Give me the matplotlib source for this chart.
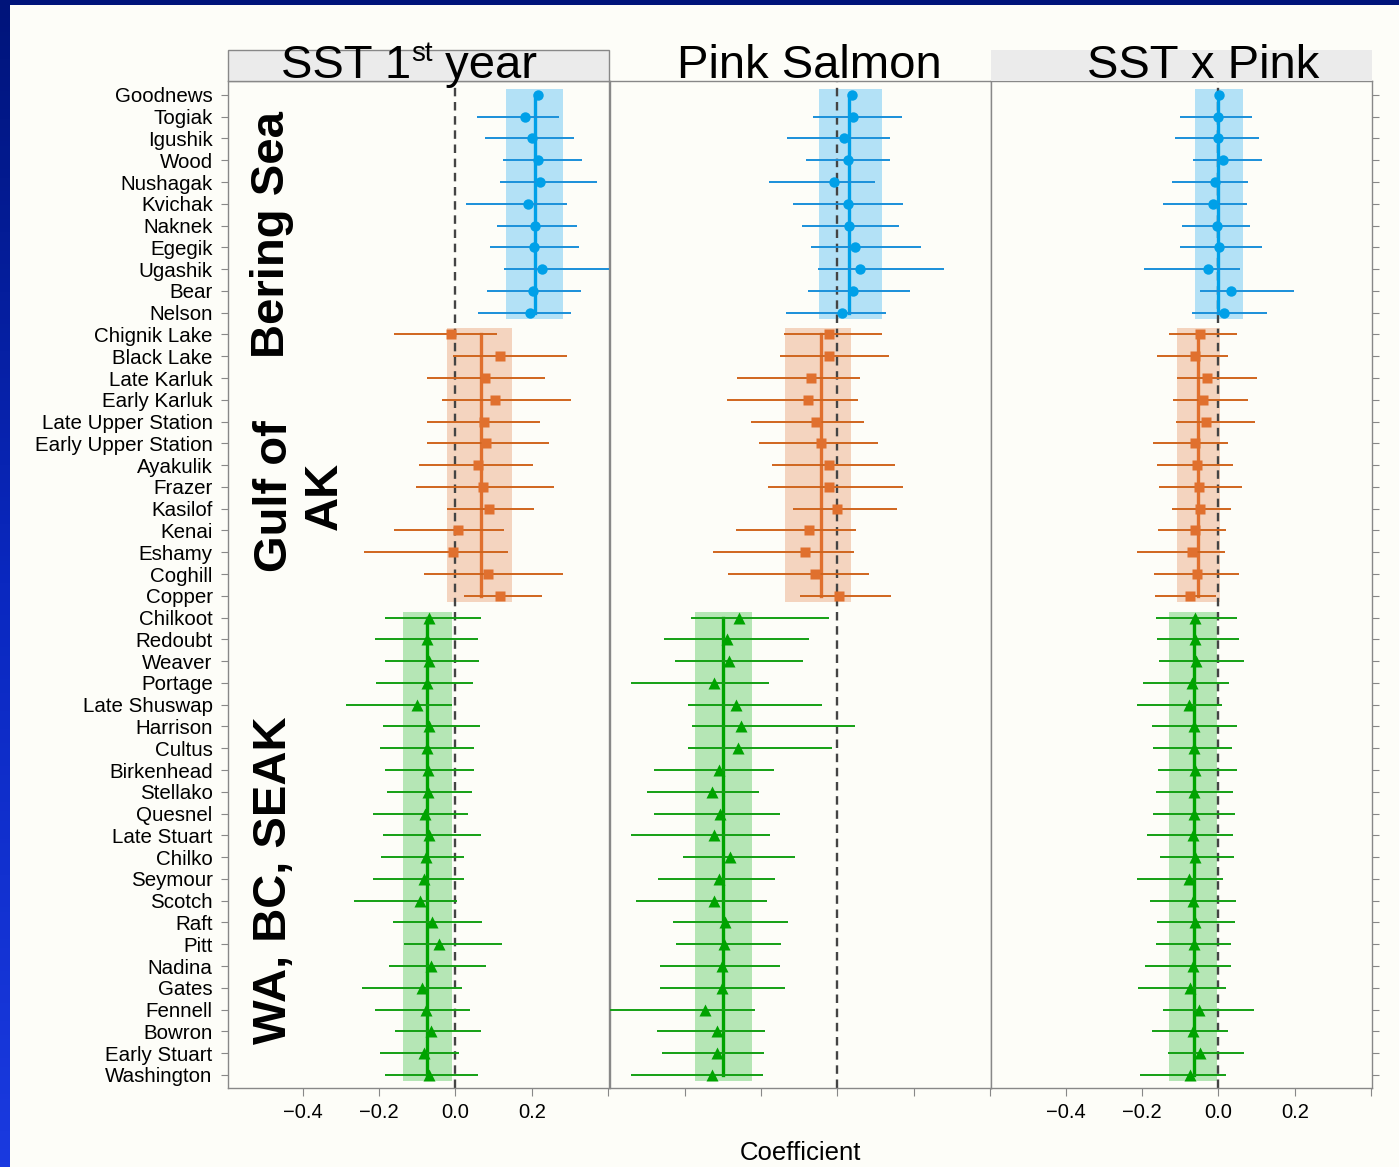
import numpy as np
import matplotlib.pyplot as plt
from matplotlib.patches import Rectangle
from matplotlib.colors import LinearSegmentedColormap

plt.rcParams['font.family'] = 'Liberation Sans'

nan = np.nan

# populations from top to bottom
populations = ['Goodnews', 'Togiak', 'Igushik', 'Wood', 'Nushagak', 'Kvichak', 'Naknek',
               'Egegik', 'Ugashik', 'Bear', 'Nelson',
               'Chignik Lake', 'Black Lake', 'Late Karluk', 'Early Karluk', 'Late Upper Station',
               'Early Upper Station', 'Ayakulik', 'Frazer', 'Kasilof', 'Kenai', 'Eshamy',
               'Coghill', 'Copper',
               'Chilkoot', 'Redoubt', 'Weaver', 'Portage', 'Late Shuswap', 'Harrison', 'Cultus',
               'Birkenhead', 'Stellako', 'Quesnel', 'Late Stuart', 'Chilko', 'Seymour', 'Scotch',
               'Raft', 'Pitt', 'Nadina', 'Gates', 'Fennell', 'Bowron', 'Early Stuart', 'Washington']
region = np.array([0]*11 + [1]*13 + [2]*22)
region_names = ['Bering Sea', 'Gulf of\nAK', 'WA, BC, SEAK']

# SST 1st year
sst_est = [0.217, 0.183, 0.200, 0.217, 0.221, 0.190, 0.209, 0.206, 0.226, 0.204, 0.196,
           -0.011, 0.117, 0.078, 0.104, 0.075, 0.080, 0.060, 0.072, 0.089, 0.007, -0.006, 0.085, 0.117,
           -0.069, -0.073, -0.070, -0.075, -0.101, -0.070, -0.074, -0.071, -0.072, -0.079, -0.070,
           -0.077, -0.082, -0.093, -0.062, -0.044, -0.065, -0.088, -0.077, -0.063, -0.083, -0.070]
sst_lo = [nan, 0.057, 0.077, 0.124, 0.118, 0.029, 0.108, 0.090, 0.126, 0.082, 0.060,
          -0.161, -0.007, -0.073, -0.036, -0.073, -0.073, -0.095, -0.103, -0.022, -0.161, -0.240, -0.083, 0.022,
          -0.184, -0.210, -0.184, -0.209, -0.287, -0.190, -0.196, -0.185, -0.180, -0.215, -0.189,
          -0.195, -0.215, -0.266, -0.164, -0.135, -0.174, -0.245, -0.210, -0.159, -0.198, -0.185]
sst_hi = [nan, 0.271, 0.311, 0.332, 0.370, 0.292, 0.317, 0.324, 0.450, 0.328, 0.302,
          0.110, 0.291, 0.234, 0.302, 0.222, 0.244, 0.204, 0.257, 0.206, 0.128, 0.137, 0.282, 0.226,
          0.067, 0.059, 0.063, 0.047, -0.009, 0.064, 0.049, 0.049, 0.043, 0.032, 0.068,
          0.023, 0.022, 0.004, 0.070, 0.123, 0.079, 0.017, 0.038, 0.067, 0.010, 0.059]
sst_mean = [0.209, 0.068, -0.075]
sst_band_lo = [0.133, -0.021, -0.138]
sst_band_hi = [0.281, 0.148, -0.009]

# Pink salmon
pink_est = [0.037, 0.042, 0.018, 0.027, -0.008, 0.027, 0.031, 0.046, 0.058, 0.040, 0.013,
            -0.021, -0.021, -0.068, -0.076, -0.057, -0.042, -0.023, -0.023, 0.000, -0.073, -0.086, -0.059, 0.005,
            -0.257, -0.290, -0.284, -0.324, -0.264, -0.251, -0.261, -0.311, -0.327, -0.308, -0.322,
            -0.281, -0.310, -0.324, -0.294, -0.296, -0.303, -0.302, -0.346, -0.316, -0.315, -0.327]
pink_lo = [nan, -0.063, -0.132, -0.083, -0.178, -0.115, -0.092, -0.070, -0.051, -0.078, -0.134,
           -0.140, -0.151, -0.263, -0.288, -0.225, -0.205, -0.170, -0.182, -0.116, -0.265, -0.325, -0.286, -0.097,
           -0.384, -0.454, -0.424, -0.540, -0.390, -0.380, -0.390, -0.480, -0.498, -0.481, -0.540,
           -0.403, -0.469, -0.527, -0.429, -0.423, -0.464, -0.464, -0.620, -0.473, -0.458, -0.540]
pink_hi = [nan, 0.170, 0.137, 0.137, 0.099, 0.171, 0.160, 0.220, 0.278, 0.190, 0.126,
           0.117, 0.136, 0.060, 0.054, 0.069, 0.106, 0.152, 0.173, 0.156, 0.050, 0.043, 0.083, 0.141,
           -0.021, -0.073, -0.090, -0.180, -0.041, 0.047, -0.013, -0.165, -0.205, -0.149, -0.177,
           -0.111, -0.164, -0.185, -0.130, -0.148, -0.151, -0.138, -0.216, -0.189, -0.193, -0.195]
pink_mean = [0.031, -0.044, -0.299]
pink_band_lo = [-0.047, -0.138, -0.373]
pink_band_hi = [0.117, 0.036, -0.223]

# SST x Pink
int_est = [0.001, -0.002, -0.001, 0.013, -0.009, -0.014, -0.004, 0.002, -0.028, 0.034, 0.014,
           -0.049, -0.062, -0.030, -0.039, -0.033, -0.062, -0.057, -0.051, -0.049, -0.062, -0.069, -0.057, -0.075,
           -0.060, -0.060, -0.058, -0.069, -0.078, -0.063, -0.065, -0.060, -0.063, -0.064, -0.067,
           -0.061, -0.078, -0.066, -0.060, -0.064, -0.067, -0.073, -0.051, -0.067, -0.049, -0.073]
int_lo = [nan, -0.100, -0.113, -0.067, -0.121, -0.144, -0.095, -0.100, -0.194, -0.049, -0.069,
          -0.128, -0.161, -0.108, -0.118, -0.111, -0.172, -0.161, -0.155, -0.122, -0.158, -0.214, -0.168, -0.167,
          -0.163, -0.161, -0.156, -0.197, -0.214, -0.173, -0.170, -0.158, -0.163, -0.171, -0.186,
          -0.152, -0.213, -0.179, -0.160, -0.163, -0.191, -0.211, -0.144, -0.173, -0.133, -0.205]
int_hi = [nan, 0.088, 0.105, 0.114, 0.077, 0.076, 0.082, 0.114, 0.057, 0.199, 0.128,
          0.048, 0.024, 0.100, 0.078, 0.097, 0.026, 0.037, 0.063, 0.033, 0.021, 0.017, 0.054, -0.005,
          0.050, 0.053, 0.068, 0.028, 0.010, 0.050, 0.036, 0.050, 0.038, 0.044, 0.037,
          0.041, 0.011, 0.046, 0.044, 0.033, 0.034, 0.020, 0.094, 0.026, 0.068, 0.019]
int_mean = [0.000, -0.053, -0.065]
int_band_lo = [-0.061, -0.108, -0.130]
int_band_hi = [0.064, 0.003, -0.004]

xticks = [-0.4, -0.2, 0.0, 0.2, 0.4]
xticklabels = ['\u22120.4', '\u22120.2', '0.0', '0.2', '']

point_col = ['#00a0e8', '#e0702e', '#00a300']
err_col = ['#1a90da', '#d0651e', '#14a014']
band_col = ['#b3e1f6', '#f4d4bf', '#b5e6b5']
markers = ['o', 's', '^']
msizes = [7.5, 7.5, 8.5]

W, H = 1399, 1167
bg = '#fdfdf8'
fig = plt.figure(figsize=(W / 100, H / 100), dpi=100, facecolor=bg)
renderer = fig.canvas.get_renderer()

# slide border
fig.add_artist(Rectangle((0, 1 - 5 / H), 1, 5 / H, transform=fig.transFigure,
                         facecolor='#00147a', edgecolor='none'))
gax = fig.add_axes([0, 0, 10 / W, 1])
grad = np.linspace(0, 1, 256).reshape(-1, 1)
cmap = LinearSegmentedColormap.from_list('edge', ['#00147a', '#0a28c0', '#1a3ae0'])
gax.imshow(grad, aspect='auto', cmap=cmap, origin='upper')
gax.axis('off')

y = np.arange(len(populations), 0, -1)
data = [
    (sst_est, sst_lo, sst_hi, sst_mean, sst_band_lo, sst_band_hi),
    (pink_est, pink_lo, pink_hi, pink_mean, pink_band_lo, pink_band_hi),
    (int_est, int_lo, int_hi, int_mean, int_band_lo, int_band_hi),
]
lefts = [228, 610, 991]
pw = 381
top, bottom = 81, 1088
title_x = [409, 809, 1203]

for k, (est, lo, hi, gmean, blo, bhi) in enumerate(data):
    est, lo, hi = np.array(est), np.array(lo), np.array(hi)
    ax = fig.add_axes([lefts[k] / W, 1 - bottom / H, pw / W, (bottom - top) / H])
    ax.set_facecolor(bg)
    for g in range(3):
        idx = region == g
        ytop, ybot = y[idx].max(), y[idx].min()
        ax.add_patch(Rectangle((blo[g], ybot - 0.28), bhi[g] - blo[g], ytop - ybot + 0.56,
                               facecolor=band_col[g], edgecolor='none', zorder=1))
        ax.plot([gmean[g], gmean[g]], [ybot, ytop], color=point_col[g], lw=2.4, zorder=3)
        ax.hlines(y[idx], lo[idx], hi[idx], color=err_col[g], lw=1.4, zorder=3)
        ax.plot(est[idx], y[idx], ls='none', marker=markers[g], ms=msizes[g],
                color=point_col[g], mec='none', zorder=4)
    ax.axvline(0, color='#444444', lw=1.7, ls=(0, (3.6, 2.4)), zorder=2)
    ax.set_xlim(-0.595, 0.402)
    ax.set_ylim(0.4, 46.64)
    for s in ax.spines.values():
        s.set_color('#888888')
        s.set_linewidth(1.0)
    ax.set_xticks(xticks)
    ax.tick_params(axis='x', length=6, width=0.8, color='#888888', pad=5, labelsize=14.5)
    if k == 1:
        ax.set_xticklabels([''] * len(xticks))
    else:
        ax.set_xticklabels(xticklabels)
    ax.set_yticks(y)
    if k == 0:
        ax.set_yticklabels(populations)
        ax.tick_params(axis='y', length=5, width=0.8, color='#888888', pad=6, labelsize=14.8)
    elif k == 2:
        ax.yaxis.tick_right()
        ax.set_yticklabels([])
        ax.tick_params(axis='y', length=5, width=0.8, color='#888888')
    else:
        ax.tick_params(axis='y', length=0, labelleft=False)

    if k == 0:
        ax.text(-0.48, 39.6, region_names[0], rotation=90, ha='center', va='center',
                fontsize=34, fontweight='bold', clip_on=False)
        ax.text(-0.407, 27.6, region_names[1], rotation=90, ha='center', va='center',
                multialignment='center', fontsize=34, fontweight='bold', linespacing=1.15)
        ax.text(-0.475, 9.95, region_names[2], rotation=90, ha='center', va='center',
                fontsize=34, fontweight='bold')

    # strip
    if k != 1:
        fig.add_artist(Rectangle((lefts[k] / W, 1 - top / H), pw / W, 31 / H,
                                 transform=fig.transFigure, facecolor='#ebebeb',
                                 edgecolor='#888888' if k == 0 else 'none', lw=1.0))

# strip titles
base_y = 1 - 78 / H
# "SST 1st year" with a small superscript, laid out piece by piece
pieces = [('SST 1', 34, 0), ('st', 20, 17), (' year', 34, 0)]
widths = []
for txt, fs, dy in pieces:
    t = fig.text(0, 0, txt, fontsize=fs)
    widths.append(t.get_window_extent(renderer).width)
    t.remove()
xpos = 409 - sum(widths) / 2
for (txt, fs, dy), w in zip(pieces, widths):
    fig.text(xpos / W, base_y + dy / H, txt, fontsize=fs, ha='left', va='baseline')
    xpos += w
fig.text(title_x[1] / W, base_y, 'Pink Salmon', ha='center', va='baseline', fontsize=34)
fig.text(title_x[2] / W, base_y, 'SST x Pink', ha='center', va='baseline', fontsize=34)

fig.text(800 / W, 1 - 1153 / H, 'Coefficient', ha='center', va='center', fontsize=18.5)

fig.savefig('out.png', dpi=100, facecolor=bg)
